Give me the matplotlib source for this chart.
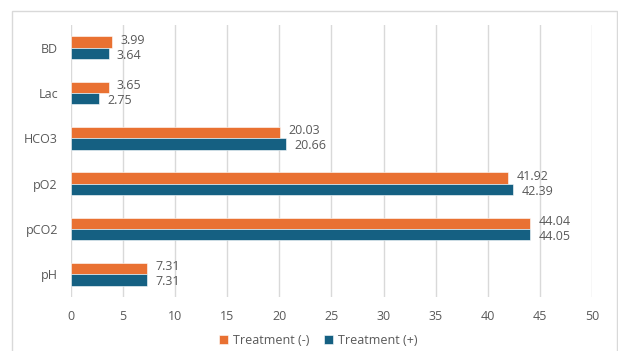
import matplotlib
matplotlib.use("Agg")
import matplotlib.pyplot as plt
from matplotlib.patches import Rectangle
import numpy as np

plt.rcParams['font.family'] = ['Open Sans', 'DejaVu Sans']

categories = ['pH', 'pCO2', 'pO2', 'HCO3', 'Lac', 'BD']
treat_minus = [7.31, 44.04, 41.92, 20.03, 3.65, 3.99]
treat_plus = [7.31, 44.05, 42.39, 20.66, 2.75, 3.64]

orange = '#E97132'
blue = '#156082'
text_c = '#595959'
grid_c = '#D9D9D9'

fig = plt.figure(figsize=(6.18, 3.51), dpi=100)
ax = fig.add_axes([70.5 / 618, 1 - 297 / 351, 522 / 618, 272 / 351])

# chart area frame (open at the bottom)
fig.patches.append(Rectangle((12 / 618, -0.05), 605 / 618, 1.05 - 11 / 351,
                             transform=fig.transFigure, fill=False,
                             edgecolor='#D9D9D9', linewidth=1.0))

y = np.arange(len(categories))
h = 0.253
b1 = ax.barh(y + h / 2, treat_minus, height=h, color=orange,
             edgecolor='white', linewidth=0.4, label='Treatment (-)', zorder=3)
b2 = ax.barh(y - h / 2, treat_plus, height=h, color=blue,
             edgecolor='white', linewidth=0.4, label='Treatment (+)', zorder=3)

# value labels, nudged apart a little so the pairs don't collide
for bars, vals, dy in ((b1, treat_minus, 1.2), (b2, treat_plus, -1.2)):
    for bar, v in zip(bars, vals):
        ax.annotate(f'{v:.2f}', (bar.get_width(), bar.get_y() + bar.get_height() / 2),
                    xytext=(6, dy), textcoords='offset points', va='center',
                    ha='left', fontsize=9, color=text_c)

ax.set_xlim(0, 50)
ax.set_ylim(-0.5, len(categories) - 0.5)
ax.set_xticks(np.arange(0, 51, 5))
ax.set_yticks(y)
ax.set_yticklabels(categories)
ax.tick_params(axis='both', length=0, labelsize=9, labelcolor=text_c)
ax.tick_params(axis='x', pad=9)
ax.tick_params(axis='y', pad=9)
ax.grid(axis='x', color=grid_c, linewidth=1.0, zorder=0)
for s in ax.spines.values():
    s.set_visible(False)

fig.legend(handles=[b1, b2], loc='center', bbox_to_anchor=(318 / 618, 1 - 340 / 351),
           ncol=2, frameon=False, fontsize=9, labelcolor=text_c,
           handlelength=0.7, handleheight=0.7, handletextpad=0.4, columnspacing=1.2)

fig.savefig('out.png', dpi=100)
